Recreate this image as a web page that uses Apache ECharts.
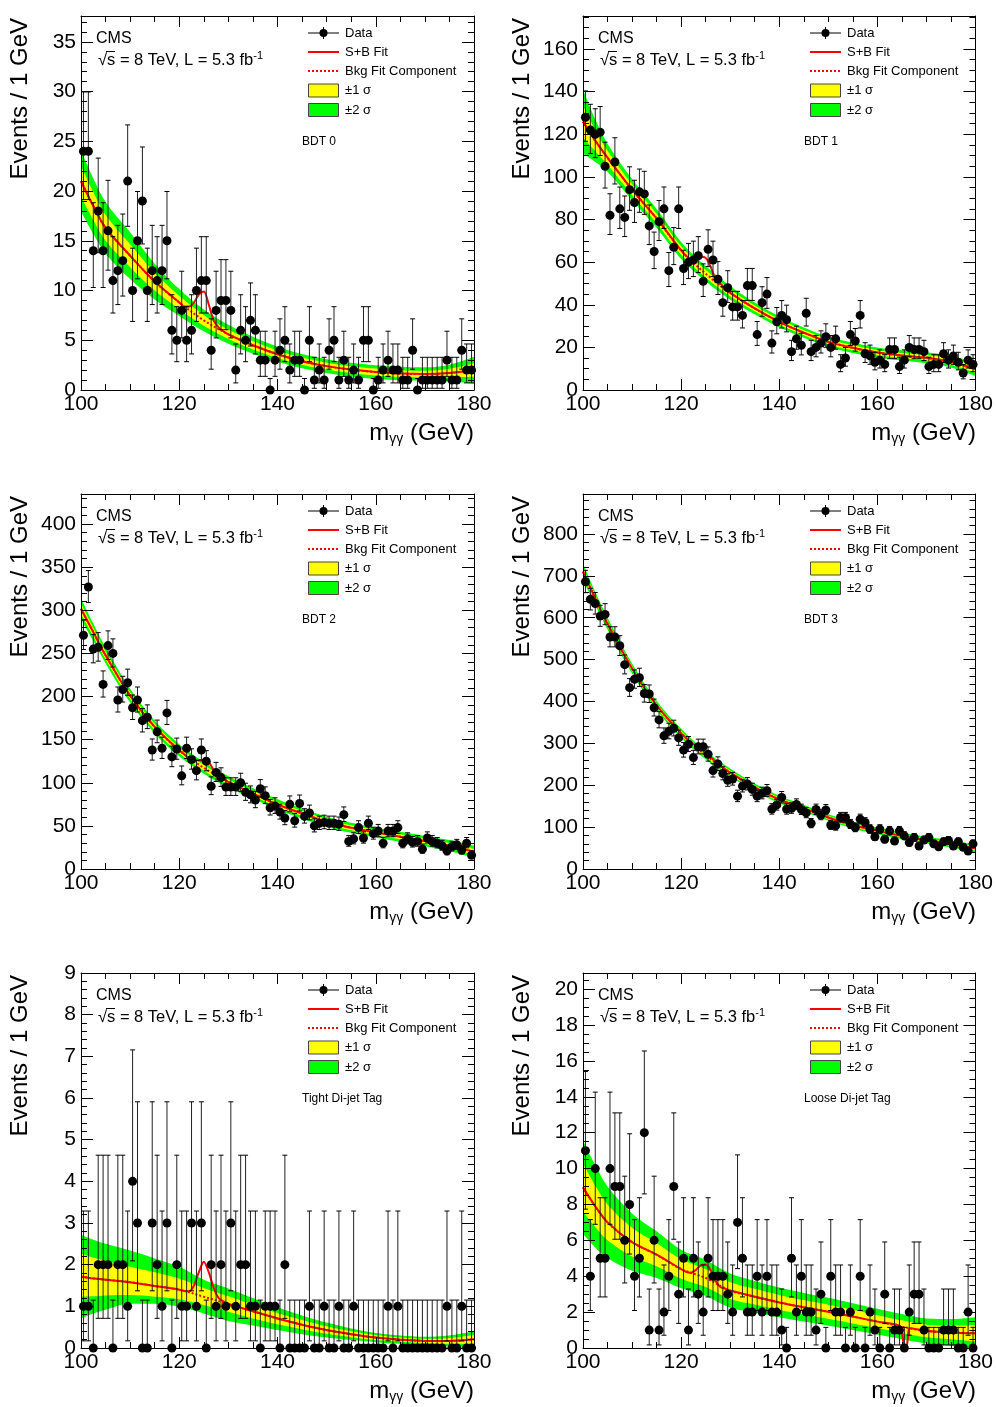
<!DOCTYPE html>
<html><head><meta charset="utf-8">
<script src="https://cdn.jsdelivr.net/npm/echarts@6/dist/echarts.min.js"></script>
<style>html,body{margin:0;padding:0;background:#fff}#c{width:996px;height:1407px}</style>
</head><body><div id="c"></div>
<script>
// ---------- DATA ----------
const binCenters = Array.from({length: 80}, (_, i) => 100.5 + i); // 1 GeV bins, 100-180
const xTicks = [100, 120, 140, 160, 180];

const bdt0Counts = [24,24,14,18,14,16,11,12,13,21, 10,15,19,10,12,11,12,15,6,5, 8,5,6,10,11,11,4,8,9,9, 8,2,6,5,7,6,3,3,0,3, 4,5,2,3,3,0,5,1,2,1, 4,5,1,3,1,2,1,5,5,0, 1,2,3,2,2,1,1,4,0,1, 1,1,1,1,3,1,1,4,2,2];
const bdt1Counts = [128,122,120,121,105,82,107,85,81,94, 88,93,92,77,65,79,85,56,67,85, 57,60,61,63,51,66,61,52,41,48, 39,39,35,49,49,26,41,45,22,32, 35,33,18,24,21,36,18,20,22,25, 20,24,12,15,26,23,35,17,16,13, 14,12,19,19,11,14,20,19,19,18, 11,12,12,17,14,16,13,8,14,12];
const bdt2Counts = [271,327,255,257,214,259,250,196,208,216, 187,196,172,176,138,159,140,181,130,139, 108,140,127,114,138,125,96,112,106,95, 95,95,100,89,86,80,93,85,71,73, 66,59,75,56,76,61,65,50,53,54, 53,53,52,63,32,35,48,36,53,41, 44,30,44,44,48,30,35,31,32,23, 36,32,30,27,21,26,28,22,30,16];
const bdt3Counts = [686,644,634,604,608,554,554,533,488,433, 453,457,419,418,385,356,318,329,336,313, 284,298,266,292,292,274,235,251,228,212, 215,174,198,203,190,174,181,187,143,153, 171,143,145,154,142,134,109,142,129,141, 105,103,123,123,107,99,119,111,95,77, 95,71,91,67,91,79,63,75,55,69, 75,60,53,65,68,55,65,52,43,60];
const tightCounts = [1,1,0,2,2,2,0,2,2,1, 4,3,0,0,3,2,1,3,0,2, 1,1,3,1,3,0,2,1,2,1, 3,1,2,2,1,1,0,1,1,1, 0,2,0,0,0,0,1,0,0,1, 0,0,1,0,0,1,0,0,0,0, 0,0,1,0,1,0,0,0,0,0, 0,0,0,0,1,0,0,1,0,0];
const looseCounts = [11,4,10,5,5,10,9,9,6,8, 4,5,12,1,6,1,2,4,9,3, 5,1,5,3,2,5,4,4,4,3, 2,7,5,2,2,4,2,4,2,2, 1,0,5,2,4,2,2,1,3,0, 4,2,2,0,2,0,4,0,2,1, 0,3,0,1,1,0,2,3,3,1, 0,0,0,1,1,1,0,0,2,0];

// background fit curve samples, +/-1 sigma and +/-2 sigma half-widths (upper / lower)
const sampleMass = [100,102.5,105,110,115,120,125,130,135,140,145,150,155,160,165,170,175,180];
const bdt0Bkg = [21.0,18.5,16.3,13.5,10.9,8.8,7.0,5.6,4.5,3.6,2.9,2.4,2.05,1.8,1.65,1.6,1.7,2.0];
const bdt0Sig1 = [1.55,1.4,1.3,1.15,0.9,0.68,0.55,0.48,0.42,0.38,0.36,0.35,0.35,0.35,0.34,0.34,0.43,0.68];
const bdt0Sig2 = [3.05,2.8,2.6,2.35,1.8,1.35,1.1,0.95,0.85,0.76,0.72,0.7,0.7,0.7,0.68,0.68,0.85,1.35];
const bdt1Bkg = [126,117,109,94,80.5,65.5,54.6,45.6,38.3,32,26.9,22.6,19.8,17.6,16.2,15.1,13.3,9.7];
const bdt1Sig1 = [7.5,5,3.3,2.5,2.2,2,1.8,1.6,1.4,1.3,1.2,1.2,1.2,1.2,1.2,1.3,1.4,1.6];
const bdt1Sig2 = [15,10,6.6,5,4.4,4,3.6,3.2,2.8,2.6,2.4,2.4,2.4,2.4,2.4,2.6,2.8,3.2];
const bdt2Bkg = [301.7,274.7,247.7,201,164.7,137.7,117.3,101,87.6,74.8,64.4,54.8,47.8,42.4,37.4,32.4,27,20];
const bdt2Sig1 = [6,5,4.5,4,3.7,3.5,3.4,3.2,3.1,3,2.9,2.9,2.9,2.9,2.9,3,3.2,3.5];
const bdt2Sig2 = [12,10,9,8,7.5,7,6.8,6.5,6.2,6,5.8,5.8,5.8,5.8,5.8,6,6.5,7];
const bdt3Bkg = [710,646,586,479,391,324,272,230,195,166,145,123,105,91,79,69,60,49];
const bdt3Sig1 = [10,8,7,6,5.5,5.5,5,5,4.5,4.5,4.2,4,4,4,4,4,4.2,4.5];
const bdt3Sig2 = [20,16,14,12,11,11,10,10,9,9,8.5,8,8,8,8,8,8.5,9];
const tightBkg = [1.71,1.67,1.64,1.58,1.49,1.40,1.23,1.06,0.88,0.71,0.56,0.43,0.33,0.25,0.2,0.17,0.17,0.21];
const tightSig1Up = [0.56,0.5,0.45,0.37,0.33,0.27,0.21,0.18,0.16,0.13,0.11,0.09,0.07,0.06,0.05,0.05,0.07,0.1];
const tightSig1Dn = [0.48,0.43,0.38,0.31,0.26,0.23,0.2,0.19,0.17,0.14,0.11,0.09,0.07,0.06,0.05,0.05,0.07,0.1];
const tightSig2Up = [1.0,0.93,0.86,0.76,0.66,0.55,0.41,0.37,0.32,0.27,0.22,0.18,0.14,0.11,0.1,0.1,0.13,0.19];
const tightSig2Dn = [1.0,0.84,0.72,0.52,0.43,0.41,0.4,0.41,0.34,0.28,0.23,0.18,0.14,0.11,0.1,0.1,0.13,0.19];
const looseBkg = [8.95,7.9,7.0,5.9,5.2,4.4,3.9,3.2,2.86,2.54,2.27,2.02,1.75,1.47,1.19,0.95,0.87,0.82];
const looseSig1 = [1.35,1.15,1.0,0.8,0.65,0.54,0.5,0.47,0.44,0.42,0.4,0.39,0.38,0.36,0.35,0.35,0.38,0.45];
const looseSig2 = [2.6,2.3,2.0,1.6,1.3,1.07,1.0,0.95,0.88,0.83,0.8,0.78,0.75,0.72,0.7,0.7,0.75,0.9];

// signal+background fit around the peak
const peakMass = [120,121,122,123,124,125,126,127,128,129,130];
const bdt0SB = [8.8,8.4,8.4,8.8,9.6,9.9,8.6,7.0,6.3,5.9,5.6];
const bdt1SB = [65.5,63,61.5,61.8,62.5,62,58,52,50,47.5,45.6];
const bdt2SB = [137.7,133,128.5,126.5,126,126,124,115,109.5,105,101];
const bdt3SB = [324,313,302,295,288,279,268,256,246,238,230];
const tightSB = [1.40,1.37,1.36,1.5,1.82,2.07,1.82,1.45,1.2,1.12,1.06];
const looseSB = [4.4,4.25,4.2,4.35,4.6,4.66,4.35,3.75,3.4,3.3,3.2];
const looseDipMass = [164.6,165.2,165.7,166.2,166.6];
const looseDipSB = [1.22,0.5,-0.45,0.5,1.1];

const categoryLabels = ['BDT 0','BDT 1','BDT 2','BDT 3','Tight Di-jet Tag','Loose Di-jet Tag'];
const yMaxes = [37.6, 175.5, 434.8, 895.5, 9, 20.9];
const yIntervals = [5, 20, 50, 100, 1, 2];
const yMinorSplits = [5, 4, 5, 5, 5, 4];

// ---------- BUILD ----------
const FONT = '"Liberation Sans", Arial, Helvetica, sans-serif';
const counts = [bdt0Counts, bdt1Counts, bdt2Counts, bdt3Counts, tightCounts, looseCounts];
const bkgs = [bdt0Bkg, bdt1Bkg, bdt2Bkg, bdt3Bkg, tightBkg, looseBkg];
const sig1Up = [bdt0Sig1, bdt1Sig1, bdt2Sig1, bdt3Sig1, tightSig1Up, looseSig1];
const sig1Dn = [bdt0Sig1, bdt1Sig1, bdt2Sig1, bdt3Sig1, tightSig1Dn, looseSig1];
const sig2Up = [bdt0Sig2, bdt1Sig2, bdt2Sig2, bdt3Sig2, tightSig2Up, looseSig2];
const sig2Dn = [bdt0Sig2, bdt1Sig2, bdt2Sig2, bdt3Sig2, tightSig2Dn, looseSig2];
const sbs = [bdt0SB, bdt1SB, bdt2SB, bdt3SB, tightSB, looseSB];
const extras = [null, null, null, null, null, [looseDipMass, looseDipSB]];
const lefts = [81, 583, 81, 583, 81, 583];
const tops = [16, 16, 494, 494, 973, 973];
const heights = [374, 374, 375, 375, 375, 375];
const W = 393;

function poisson(n) {
  if (n === 0) return [0, 1.15];
  const lo = n * Math.pow(1 - 1 / (9 * n) - 1 / (3 * Math.sqrt(n)), 3);
  const hi = (n + 1) * Math.pow(1 - 1 / (9 * (n + 1)) + 1 / (3 * Math.sqrt(n + 1)), 3);
  return [lo, hi];
}

const grids = [], xAxes = [], yAxes = [], series = [], graphics = [];

for (let k = 0; k < 6; k++) {
  const L = lefts[k], T = tops[k], H = heights[k];
  grids.push({left: L, top: T, width: W, height: H});
  const tickStyle = {color: '#000', width: 1};
  const xBase = {gridIndex: k, type: 'value', min: 100, max: 180, interval: 20, z: 10,
    axisLine: {show: true, onZero: false, lineStyle: tickStyle},
    axisTick: {show: true, inside: true, length: 11, lineStyle: tickStyle},
    minorTick: {show: true, splitNumber: 4, length: 6, lineStyle: tickStyle},
    splitLine: {show: false}, minorSplitLine: {show: false}};
  xAxes.push(Object.assign({}, xBase, {position: 'bottom',
    axisLabel: {show: true, fontSize: 21, fontFamily: FONT, color: '#000', margin: 4,
      formatter: v => (xTicks.indexOf(v) >= 0 ? String(v) : '')}}));
  xAxes.push(Object.assign({}, xBase, {position: 'top', axisLabel: {show: false}}));
  const yBase = {gridIndex: k, type: 'value', min: 0, max: yMaxes[k], interval: yIntervals[k], z: 10,
    axisLine: {show: true, onZero: false, lineStyle: tickStyle},
    axisTick: {show: true, inside: true, length: 12, lineStyle: tickStyle},
    minorTick: {show: true, splitNumber: yMinorSplits[k], length: 6, lineStyle: tickStyle},
    splitLine: {show: false}, minorSplitLine: {show: false}};
  const yi = yIntervals[k];
  yAxes.push(Object.assign({}, yBase, {position: 'left',
    axisLabel: {show: true, fontSize: 21, fontFamily: FONT, color: '#000', margin: 5,
      formatter: v => (Math.abs(v / yi - Math.round(v / yi)) < 1e-6 ? String(v) : '')}}));
  yAxes.push(Object.assign({}, yBase, {position: 'right', axisLabel: {show: false}}));

  const xi = 2 * k, yIdx = 2 * k;
  const bkg = bkgs[k];
  const common = {type: 'line', xAxisIndex: xi, yAxisIndex: yIdx, smooth: 0.35, symbol: 'none',
    silent: true, animation: false};
  // bands: layered filled areas (green top edge, yellow top edge, green below yellow, white below band)
  const layers = [
    [sampleMass.map((m, i) => [m, bkg[i] + sig2Up[k][i]]), '#00ff00', 1],
    [sampleMass.map((m, i) => [m, bkg[i] + sig1Up[k][i]]), '#ffff00', 2],
    [sampleMass.map((m, i) => [m, bkg[i] - sig1Dn[k][i]]), '#00ff00', 3],
    [sampleMass.map((m, i) => [m, bkg[i] - sig2Dn[k][i]]), '#ffffff', 4]
  ];
  layers.forEach(ly => series.push(Object.assign({}, common, {z: ly[2], data: ly[0],
    lineStyle: {width: 0, opacity: 0}, areaStyle: {color: ly[1], opacity: 1, origin: 'start'}})));
  // background component (dotted)
  series.push(Object.assign({}, common, {z: 5,
    data: sampleMass.map((m, i) => [m, bkg[i]]),
    lineStyle: {color: '#ff0000', width: 2, type: [2, 2]}}));
  // S+B fit
  const sbPts = [];
  const ranges = [[peakMass[0], peakMass[peakMass.length - 1]]];
  if (extras[k]) ranges.push([extras[k][0][0], extras[k][0][extras[k][0].length - 1]]);
  sampleMass.forEach((m, i) => {
    if (!ranges.some(r => m >= r[0] && m <= r[1])) sbPts.push([m, bkg[i]]);
  });
  peakMass.forEach((m, i) => sbPts.push([m, sbs[k][i]]));
  if (extras[k]) extras[k][0].forEach((m, i) => sbPts.push([m, extras[k][1][i]]));
  sbPts.sort((a, b) => a[0] - b[0]);
  series.push(Object.assign({}, common, {z: 6, smooth: 0.3,
    data: sbPts, lineStyle: {color: '#ff0000', width: 2}}));
  // error bars
  series.push({type: 'custom', xAxisIndex: xi, yAxisIndex: yIdx, z: 7, silent: true, animation: false,
    clip: true,
    data: binCenters.map((m, i) => { const e = poisson(counts[k][i]); return [m, e[0], e[1]]; }),
    encode: {x: 0, y: [1, 2]},
    renderItem: (params, api) => {
      const x = api.value(0), lo = api.value(1), hi = api.value(2);
      const p1 = api.coord([x, lo]), p2 = api.coord([x, hi]);
      const c = 2.5;
      return {type: 'group', children: [
        {type: 'line', shape: {x1: p1[0], y1: p1[1], x2: p2[0], y2: p2[1]}, style: {stroke: '#222', lineWidth: 1}},
        {type: 'line', shape: {x1: p1[0] - c, y1: p1[1], x2: p1[0] + c, y2: p1[1]}, style: {stroke: '#000', lineWidth: 1}},
        {type: 'line', shape: {x1: p2[0] - c, y1: p2[1], x2: p2[0] + c, y2: p2[1]}, style: {stroke: '#000', lineWidth: 1}}
      ]};
    }});
  // data points
  series.push({type: 'scatter', xAxisIndex: xi, yAxisIndex: yIdx, z: 8, silent: true, animation: false,
    clip: false, symbol: 'circle', symbolSize: 9, itemStyle: {color: '#000', opacity: 1},
    data: binCenters.map((m, i) => [m, counts[k][i]])});

  // ---------- texts & legend ----------
  const colX = (k % 2 === 0) ? 20 : 522;
  graphics.push({type: 'text', x: colX, y: T + 2, rotation: Math.PI / 2,
    style: {text: 'Events / 1 GeV', font: '24px ' + FONT, fill: '#000', align: 'right', verticalAlign: 'middle'}});
  const xt = T + H + 43;
  graphics.push({type: 'text', x: L + 393, y: xt,
    style: {text: '{m|m}{g|γγ}{t| (GeV)}', fill: '#000', align: 'right', verticalAlign: 'middle',
      rich: {
        m: {fontSize: 24, fontFamily: FONT, lineHeight: 26, fill: '#000'},
        g: {fontSize: 14, fontFamily: FONT, lineHeight: 14, verticalAlign: 'bottom', fill: '#000'},
        t: {fontSize: 24, fontFamily: FONT, lineHeight: 26, fill: '#000'}
      }}});
  graphics.push({type: 'text', x: L + 15, y: T + 23,
    style: {text: 'CMS', font: '16px ' + FONT, fill: '#000', align: 'left', verticalAlign: 'middle'}});
  graphics.push({type: 'text', x: L + 17, y: T + 44,
    style: {text: '{a|√s = 8 TeV, L = 5.3 fb}{b|-1}', fill: '#000', align: 'left', verticalAlign: 'middle',
      rich: {
        a: {fontSize: 16.5, fontFamily: FONT, lineHeight: 20, fill: '#000'},
        b: {fontSize: 11, fontFamily: FONT, lineHeight: 10, verticalAlign: 'top', fill: '#000'}
      }}});
  graphics.push({type: 'line', shape: {x1: L + 25, y1: T + 35.5, x2: L + 34, y2: T + 35.5}, style: {stroke: '#000', lineWidth: 1}});
  graphics.push({type: 'text', x: L + 221, y: T + 126,
    style: {text: categoryLabels[k], font: '12px ' + FONT, fill: '#000', align: 'left', verticalAlign: 'middle'}});
  // legend
  const lx = L + 227, lx2 = L + 258, tx = L + 264;
  const rows = [T + 17, T + 36, T + 55, T + 74.5, T + 94];
  graphics.push({type: 'line', shape: {x1: lx, y1: rows[0], x2: lx2, y2: rows[0]}, style: {stroke: '#000', lineWidth: 1}});
  graphics.push({type: 'line', shape: {x1: lx + 15.5, y1: rows[0] - 6, x2: lx + 15.5, y2: rows[0] + 6}, style: {stroke: '#000', lineWidth: 1}});
  graphics.push({type: 'circle', shape: {cx: lx + 15.5, cy: rows[0], r: 4}, style: {fill: '#000'}});
  graphics.push({type: 'line', shape: {x1: lx, y1: rows[1], x2: lx2, y2: rows[1]}, style: {stroke: '#ff0000', lineWidth: 2}});
  graphics.push({type: 'line', shape: {x1: lx, y1: rows[2], x2: lx2, y2: rows[2]}, style: {stroke: '#ff0000', lineWidth: 2, lineDash: [2, 2]}});
  graphics.push({type: 'rect', shape: {x: lx + 0.5, y: rows[3] - 6.5, width: 30, height: 13}, style: {fill: '#ffff00', stroke: '#444', lineWidth: 1}});
  graphics.push({type: 'rect', shape: {x: lx + 0.5, y: rows[4] - 6.5, width: 30, height: 13}, style: {fill: '#00ff00', stroke: '#444', lineWidth: 1}});
  const ltxt = ['Data', 'S+B Fit', 'Bkg Fit Component', '±1 σ', '±2 σ'];
  ltxt.forEach((t, i) => graphics.push({type: 'text', x: tx, y: rows[i],
    style: {text: t, font: '13px ' + FONT, fill: '#000', align: 'left', verticalAlign: 'middle'}}));
}

const chart = echarts.init(document.getElementById('c'), null, {renderer: 'canvas'});
chart.setOption({
  backgroundColor: '#fff',
  animation: false,
  grid: grids, xAxis: xAxes, yAxis: yAxes, series: series,
  graphic: {elements: graphics}
});
</script>
</body></html>
